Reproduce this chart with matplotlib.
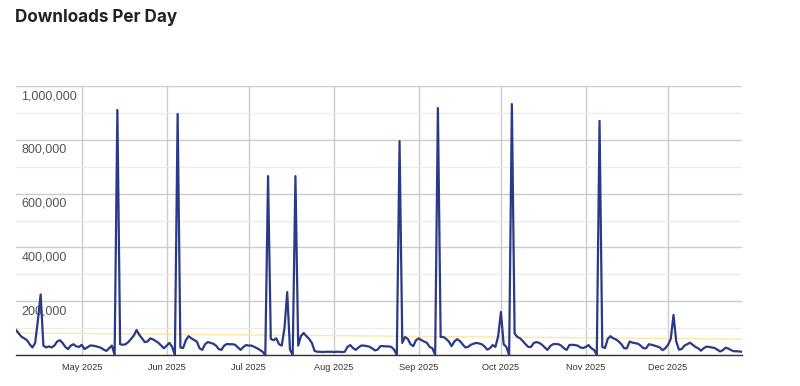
import matplotlib
matplotlib.use("Agg")
import matplotlib.pyplot as plt
import matplotlib.dates as mdates
import pandas as pd
import numpy as np

# ---------------- data ----------------
start_date = "2025-04-07"
downloads = [
    93000, 80000, 68000, 62000, 55000, 40000, 28000, 45000, 130000, 225000,   # 0-9
    35000, 28000, 32000, 28000, 35000, 50000, 55000, 45000, 30000, 22000,     # 10-19
    35000, 40000, 32000, 30000, 38000, 22000, 28000, 35000, 35000, 33000,     # 20-29
    30000, 27000, 20000, 15000, 25000, 35000, 0, 911000, 40000, 38000,        # 30-39
    40000, 48000, 60000, 72000, 93000, 75000, 62000, 48000, 50000, 62000,     # 40-49
    58000, 52000, 45000, 35000, 25000, 35000, 45000, 30000, 0, 896000,        # 50-59
    28000, 26000, 55000, 70000, 62000, 56000, 50000, 25000, 19000, 40000,     # 60-69
    48000, 45000, 42000, 35000, 22000, 19000, 35000, 41000, 40000, 40000,     # 70-79
    38000, 28000, 19000, 30000, 37000, 35000, 35000, 30000, 25000, 19000,     # 80-89
    12000, 0, 665000, 60000, 55000, 62000, 40000, 35000, 100000, 234000,      # 90-99
    20000, 0, 665000, 35000, 70000, 82000, 70000, 60000, 45000, 15000,        # 100-109
    12000, 12000, 11000, 12000, 12000, 12000, 11000, 12000, 12000, 11000,     # 110-119
    12000, 30000, 37000, 26000, 19000, 28000, 35000, 35000, 33000, 31000,     # 120-129
    25000, 17000, 20000, 33000, 33000, 32000, 32000, 30000, 20000, 0,         # 130-139
    795000, 45000, 67000, 60000, 40000, 33000, 55000, 62000, 55000, 50000,    # 140-149
    45000, 30000, 25000, 0, 918000, 67000, 67000, 60000, 50000, 33000,        # 150-159
    50000, 59000, 52000, 40000, 28000, 30000, 38000, 42000, 45000, 43000,     # 160-169
    40000, 32000, 20000, 25000, 37000, 30000, 70000, 160000, 40000, 30000,    # 170-179
    0, 933000, 80000, 67000, 62000, 52000, 40000, 30000, 30000, 45000,        # 180-189
    48000, 45000, 38000, 28000, 19000, 33000, 40000, 41000, 40000, 35000,     # 190-199
    25000, 19000, 37000, 38000, 37000, 35000, 28000, 26000, 30000, 37000,     # 200-209
    25000, 19000, 0, 870000, 30000, 26000, 60000, 70000, 62000, 58000,        # 210-219
    50000, 40000, 25000, 25000, 50000, 46000, 44000, 42000, 35000, 25000,     # 220-229
    25000, 40000, 38000, 35000, 32000, 28000, 18000, 25000, 38000, 60000,     # 230-239
    149000, 50000, 20000, 22000, 35000, 40000, 46000, 38000, 30000, 25000,    # 240-249
    16000, 25000, 31000, 30000, 28000, 26000, 20000, 13000, 18000, 27000,     # 250-259
    24000, 18000, 14000, 14000, 13000, 12000,                                 # 260-265
]
trend_start = 82000
trend_end = 59000
y_tick_values = [200000, 400000, 600000, 800000, 1000000]
y_minor_values = [100000, 300000, 500000, 700000, 900000]
title_text = "Downloads Per Day"

dates = pd.date_range(start_date, periods=len(downloads), freq="D")

# ---------------- figure ----------------
W, H = 800, 386
fig = plt.figure(figsize=(W / 100, H / 100), dpi=100)
fig.patch.set_facecolor("white")

left_px, right_px, top_px, bottom_px = 16, 742, 86, 355
ax = fig.add_axes([left_px / W, 1 - bottom_px / H,
                   (right_px - left_px) / W, (bottom_px - top_px) / H])
ax.set_facecolor("white")

ax.set_xlim(dates[0], dates[-1])
ax.set_ylim(0, 1000000)

for s in ["left", "right", "top"]:
    ax.spines[s].set_visible(False)
ax.spines["bottom"].set_color("#333333")
ax.spines["bottom"].set_linewidth(1.0)
ax.spines["bottom"].set_zorder(5)

# gridlines
ax.set_yticks(y_tick_values + [0])
ax.set_yticks(y_minor_values, minor=True)
ax.yaxis.grid(True, which="major", color="#cccccc", linewidth=1.0)
ax.yaxis.grid(True, which="minor", color="#ebebeb", linewidth=1.0)
ax.tick_params(axis="y", which="both", length=0, labelleft=False)

ax.xaxis.set_major_locator(mdates.MonthLocator())
ax.xaxis.set_major_formatter(mdates.DateFormatter("%b %Y"))
ax.xaxis.grid(True, color="#cccccc", linewidth=1.0)
ax.tick_params(axis="x", length=0, pad=6, labelsize=6.6, labelcolor="#333333")
for lab in ax.get_xticklabels():
    lab.set_fontfamily("Liberation Sans")
ax.set_axisbelow(True)

# y labels inside the plot, under each gridline
for v in y_tick_values:
    ax.annotate(f"{v:,}", xy=(0, v), xycoords=("axes fraction", "data"),
                xytext=(4, -3), textcoords="offset points",
                ha="left", va="top", fontsize=9, color="#555555",
                family="Liberation Sans", zorder=2)

# trend line
ax.plot([dates[0], dates[-1]], [trend_start, trend_end],
        color="#fde7a8", linewidth=1.0, zorder=3)

# data line
ax.plot(dates, downloads, color="#2b3a86", linewidth=1.6, zorder=4,
        solid_joinstyle="round")

fig.text(15 / W, 1 - 18 / H, title_text, ha="left", va="center",
         fontsize=12.3, fontweight="bold", color="#222222", family="Inter")

fig.savefig("out.png", dpi=100, facecolor="white")
